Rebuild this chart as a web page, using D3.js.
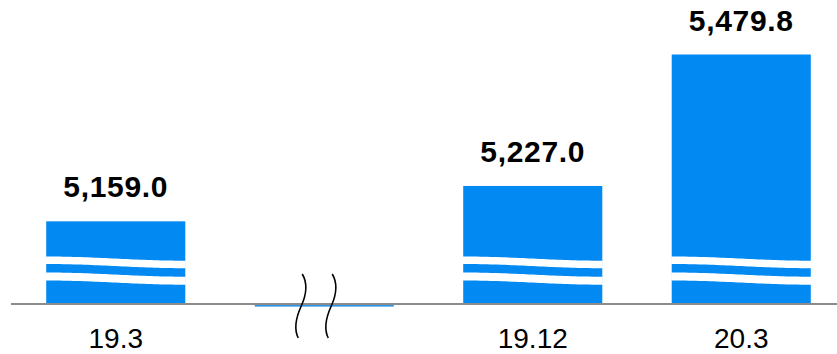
<!DOCTYPE html>
<html>
<head>
<meta charset="utf-8">
<script src="https://cdn.jsdelivr.net/npm/d3@7"></script>
<style>
  html, body { margin: 0; padding: 0; background: #fff; }
  svg { display: block; }
  text { font-family: "Liberation Sans", Arial, sans-serif; }
</style>
</head>
<body>
<svg id="chart" width="837" height="354"></svg>
<script>
// Period labels; the empty slot marks the skipped stretch of time
const categories = ["19.3", "gap", "19.12", "20.3"];
const tickLabels = ["19.3", "", "19.12", "20.3"];
const values = [5159.0, null, 5227.0, 5479.8];
// Value axis starts above zero; the break is shown with wavy cuts
const valueDomain = [5000, 5500];

const W = 837, H = 354;
const baseY = 304;
const barColor = "#0289f2";

const svg = d3.select("#chart");

const x = d3.scaleBand()
  .domain(categories)
  .range([11.5, 845.5])
  .paddingInner(0.333)
  .paddingOuter(0.1665);

const y = d3.scaleLinear()
  .domain(valueDomain)
  .range([baseY, 44]);

const fmt = d3.format(",.1f");

const data = categories.map((c, i) => ({ cat: c, label: tickLabels[i], value: values[i] }));
const real = data.filter(d => d.value != null);

// Bars
svg.append("g").selectAll("rect")
  .data(real)
  .join("rect")
  .attr("x", d => x(d.cat))
  .attr("y", d => y(d.value))
  .attr("width", x.bandwidth())
  .attr("height", d => baseY - y(d.value))
  .attr("fill", barColor);

// Wavy white cuts across each bar, signalling the broken value axis
function waveBand(x0, w, top, bottom, drop) {
  const n = 40;
  const pts = [];
  for (let i = 0; i <= n; i++) {
    const t = i / n;
    const off = drop * (1 - Math.cos(Math.PI * t)) / 2;
    pts.push([x0 + w * t, top + off]);
  }
  for (let i = n; i >= 0; i--) {
    const t = i / n;
    const off = drop * (1 - Math.cos(Math.PI * t)) / 2;
    pts.push([x0 + w * t, bottom + off]);
  }
  return d3.line()(pts) + "Z";
}
const cuts = [[baseY - 47.5, baseY - 40], [baseY - 31.5, baseY - 23.5]];
const cutG = svg.append("g");
real.forEach(d => {
  cuts.forEach(([t, b]) => {
    cutG.append("path")
      .attr("d", waveBand(x(d.cat) - 0.5, x.bandwidth() + 1, t, b, 4.2))
      .attr("fill", "#fff");
  });
});

// Baseline
svg.append("line")
  .attr("x1", 11).attr("x2", W)
  .attr("y1", baseY).attr("y2", baseY)
  .attr("stroke", "#8c8c8c")
  .attr("stroke-width", 2);

// Empty slot drawn as a flat sliver under the baseline
data.filter(d => d.value == null).forEach(d => {
  svg.append("rect")
    .attr("x", x(d.cat))
    .attr("y", baseY + 1)
    .attr("width", x.bandwidth())
    .attr("height", 1.6)
    .attr("fill", "#2a94e6");

  // Time-axis break marks
  const cx = x(d.cat) + x.bandwidth() / 2;
  [-23, 7].forEach(dx => {
    const px = cx + dx;
    svg.append("path")
      .attr("d", `M${px + 1},${baseY - 30} C${px + 7},${baseY - 20} ${px + 5},${baseY - 9} ${px},${baseY + 2} C${px - 5},${baseY + 13} ${px - 8},${baseY + 24} ${px - 3},${baseY + 34}`)
      .attr("fill", "none")
      .attr("stroke", "#000")
      .attr("stroke-width", 1.6);
  });
});

// Value labels
svg.append("g").selectAll("text")
  .data(real)
  .join("text")
  .attr("x", d => x(d.cat) + x.bandwidth() / 2)
  .attr("y", d => y(d.value) - 24)
  .attr("text-anchor", "middle")
  .attr("font-size", 30)
  .attr("font-weight", "bold")
  .attr("letter-spacing", "0.7px")
  .attr("fill", "#000")
  .text(d => fmt(d.value));

// Category labels
svg.append("g").selectAll("text")
  .data(data.filter(d => d.label))
  .join("text")
  .attr("x", d => x(d.cat) + x.bandwidth() / 2)
  .attr("y", 348)
  .attr("text-anchor", "middle")
  .attr("font-size", 28)
  .attr("fill", "#000")
  .text(d => d.label);
</script>
</body>
</html>
